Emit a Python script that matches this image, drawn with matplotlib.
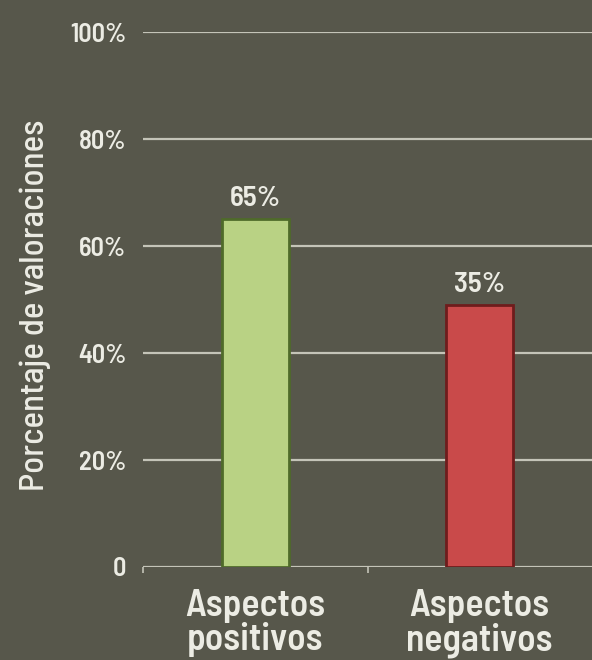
import matplotlib
matplotlib.use("Agg")
import matplotlib.pyplot as plt

categories = ["Aspectos\npositivos", "Aspectos\nnegativos"]
bar_heights = [65, 49]
value_labels = ["65%", "35%"]
y_ticks = [0, 20, 40, 60, 80, 100]
y_tick_labels = ["0", "20%", "40%", "60%", "80%", "100%"]

bg = "#57574b"
grid_c = "#c4c4b8"
txt_c = "#ecece4"
face_colors = ["#b9d284", "#c94a4a"]
edge_colors = ["#4f6b2a", "#6e1c1c"]

plt.rcParams['font.family'] = ['Barlow Semi Condensed', 'DejaVu Sans']
fig = plt.figure(figsize=(5.92, 6.60), dpi=100, facecolor=bg)
ax = fig.add_axes([143/592, 1 - 567/660, 1 - 143/592, (567 - 32)/660])
ax.set_facecolor(bg)

x = list(range(len(categories)))
for yt in y_ticks:
    ax.axhline(yt, color=grid_c, lw=1.6, zorder=1)

bars = ax.bar(x, bar_heights, width=0.3, color=face_colors, edgecolor=edge_colors,
              linewidth=2, zorder=3)
for b, lab in zip(bars, value_labels):
    ax.text(b.get_x() + b.get_width() / 2, b.get_height() + 1.5, lab,
            ha="center", va="bottom", color=txt_c, fontsize=21, fontweight=600)

ax.set_xlim(-0.5, 1.5)
ax.set_ylim(0, 100)
for s in ax.spines.values():
    s.set_visible(False)

ax.set_yticks(y_ticks)
ax.set_yticklabels(y_tick_labels, color=txt_c, fontsize=19, fontweight=600)
ax.tick_params(axis="y", length=0, pad=12)

ax.set_xticks([-0.5, 0.5])
ax.set_xticklabels([])
ax.tick_params(axis="x", length=4, width=1.2, color=grid_c, direction="out")
for xi, c in zip(x, categories):
    ax.text(xi, -4.2, c, ha="center", va="top", color=txt_c, fontsize=27,
            linespacing=0.95, fontweight=600)

fig.text(35/592, 1 - 305/660, "Porcentaje de valoraciones", rotation=90,
         ha="center", va="center", color=txt_c, fontsize=25, fontweight=500)

fig.savefig("out.png", dpi=100, facecolor=bg)
